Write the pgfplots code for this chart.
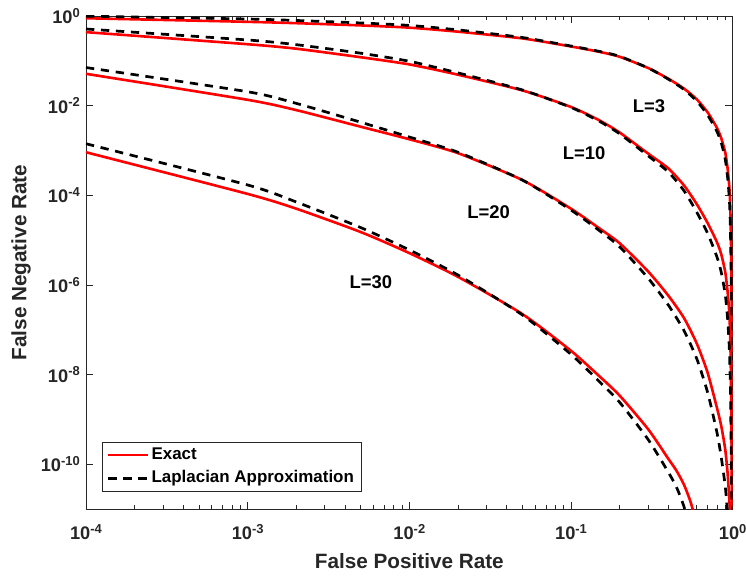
\documentclass[border=0pt]{standalone}
\usepackage{fontspec}
\setmainfont{Liberation Sans}
\usepackage{pgfplots}
\pgfplotsset{compat=1.18}
\definecolor{axgray}{RGB}{38,38,38}
\newcommand{\tenp}[1]{10\raisebox{6.5bp}{\fontsize{13}{13}\selectfont #1}}
\begin{document}
\begin{tikzpicture}
\begin{axis}[
  scale only axis, width=646.7bp, height=493bp,
  at={(0,0)}, anchor=south west,
  xmode=log, ymode=log,
  xmin=1e-4, xmax=1, ymin=1e-11, ymax=1,
  xtick={1e-4,1e-3,1e-2,1e-1,1},
  xticklabels={\tenp{-4},\tenp{-3},\tenp{-2},\tenp{-1},\tenp{0}},
  minor xtick={2e-4,3e-4,4e-4,5e-4,6e-4,7e-4,8e-4,9e-4,2e-3,3e-3,4e-3,5e-3,6e-3,7e-3,8e-3,9e-3,2e-2,3e-2,4e-2,5e-2,6e-2,7e-2,8e-2,9e-2,0.2,0.3,0.4,0.5,0.6,0.7,0.8,0.9},
  ytick={1e-10,1e-8,1e-6,1e-4,1e-2,1},
  yticklabels={\tenp{-10},\tenp{-8},\tenp{-6},\tenp{-4},\tenp{-2},\tenp{0}},
  yminorticks=false,
  tick align=inside,
  major tick length=7.5bp, minor tick length=4bp,
  axis line style={draw=axgray, line width=0.8bp},
  every tick/.append style={draw=axgray, line width=0.8bp},
  tick label style={font=\fontsize{18.3}{18}\selectfont\bfseries, text=axgray, inner sep=0pt},
  xticklabel style={anchor=north, yshift=-15bp},
  yticklabel style={anchor=east, xshift=-6bp},
  xlabel={False Positive Rate},
  ylabel={False Negative Rate},
  every axis x label/.style={at={(axis description cs:0.5,-0.1203)}, anchor=base, font=\fontsize{20.8}{21}\selectfont\bfseries, text=axgray},
  every axis y label/.style={at={(axis description cs:-0.092,0.5)}, rotate=90, anchor=base, font=\fontsize{20.8}{21}\selectfont\bfseries, text=axgray},
  legend style={at={(axis description cs:0.0243,0.0351)}, anchor=south west, draw=axgray, line width=0.6bp, fill=white,
    font=\fontsize{17}{17}\selectfont\bfseries, inner xsep=5bp, inner ysep=2.6bp, row sep=3.2bp,
    nodes={inner sep=2bp, text height=12.5bp, text depth=4bp}},
  legend cell align=left,
  legend image code/.code={\draw[#1, line width=2.6bp] (0bp,0bp) -- (40bp,0bp);},
  ex/.style={red, line width=2.6bp, smooth, tension=0.4},
  la/.style={black, line width=2.7bp, dash pattern=on 8.3bp off 6.7bp, smooth, tension=0.4},
]
% L=3
\addplot[ex] coordinates {
(1e-4,0.8913) (1e-3,0.7413) (2e-3,0.6918) (5e-3,0.6166) (1e-2,0.5495) (2e-2,0.4467) (5e-2,0.3162)
(0.1,0.2089) (0.15,0.1585) (0.2,0.1230) (0.3,0.06918) (0.4,0.03981) (0.5,0.02399) (0.6,0.01380)
(0.7,0.007079) (0.8,0.003162) (0.85,0.001862) (0.9,8.913e-4) (0.93,3.981e-4) (0.95,1.778e-4)
(0.96,1e-4) (0.97,3.162e-5) (0.98,3.162e-6) (0.99,1e-8) (0.995,1e-12)};
\addlegendentry{Exact}
\addplot[la] coordinates {
(1e-4,0.9886) (1e-3,0.8570) (2e-3,0.7943) (5e-3,0.6998) (1e-2,0.6166) (2e-2,0.4898) (5e-2,0.3311)
(0.1,0.2138) (0.15,0.1622) (0.2,0.1259) (0.3,0.06918) (0.4,0.03890) (0.5,0.02291) (0.6,0.01259)
(0.7,0.006166) (0.8,0.002630) (0.85,0.001479) (0.9,6.310e-4) (0.93,2.512e-4) (0.95,1e-4)
(0.96,5.012e-5) (0.97,1.259e-5) (0.98,1e-6) (0.99,2.512e-9) (0.995,3.162e-13)};
\addlegendentry{Laplacian Approximation}
% L=10
\addplot[ex, forget plot] coordinates {
(1e-4,0.4365) (1e-3,0.2344) (2e-3,0.1862) (5e-3,0.1202) (1e-2,0.08318) (2e-2,0.04898) (5e-2,0.02188)
(0.1,0.009333) (0.15,0.004677) (0.2,0.002512) (0.3,8.511e-4) (0.4,3.981e-4) (0.5,1.660e-4) (0.6,6.310e-5)
(0.7,2.399e-5) (0.8,8.913e-6) (0.85,4.786e-6) (0.9,1.905e-6) (0.93,7.079e-7) (0.95,2.818e-7)
(0.96,1.259e-7) (0.97,3.162e-8) (0.98,1.995e-9) (0.99,1e-11) (0.995,1e-13)};
\addplot[la, forget plot] coordinates {
(1e-4,0.5129) (1e-3,0.2917) (2e-3,0.2291) (5e-3,0.1479) (1e-2,0.09772) (2e-2,0.05370) (5e-2,0.02239)
(0.1,0.009120) (0.15,0.004467) (0.2,0.002344) (0.3,7.586e-4) (0.4,3.311e-4) (0.5,1.259e-4) (0.6,4.169e-5)
(0.7,1.413e-5) (0.8,4.169e-6) (0.85,1.905e-6) (0.9,6.026e-7) (0.93,1.778e-7) (0.95,5.012e-8)
(0.96,1.778e-8) (0.97,3.162e-9) (0.98,1e-10) (0.99,3.162e-13)};
% L=20
\addplot[ex, forget plot] coordinates {
(1e-4,0.05129) (1e-3,0.01349) (2e-3,0.007943) (5e-3,0.003388) (1e-2,0.001778) (2e-2,8.710e-4) (5e-2,2.188e-4)
(0.1,5.012e-5) (0.15,1.820e-5) (0.2,8.511e-6) (0.3,1.995e-6) (0.4,5.754e-7) (0.5,1.820e-7) (0.6,4.898e-8)
(0.7,1.096e-8) (0.8,1.778e-9) (0.85,7.079e-10) (0.9,2.089e-10) (0.93,6.310e-11) (0.95,1.995e-11)
(0.96,1e-11) (0.97,3.162e-12)};
\addplot[la, forget plot] coordinates {
(1e-4,0.07079) (1e-3,0.02042) (2e-3,0.01122) (5e-3,0.004266) (1e-2,0.001995) (2e-2,9.120e-4) (5e-2,2.188e-4)
(0.1,4.677e-5) (0.15,1.622e-5) (0.2,7.079e-6) (0.3,1.413e-6) (0.4,3.548e-7) (0.5,9.550e-8) (0.6,2.239e-8)
(0.7,3.981e-9) (0.8,5.012e-10) (0.85,1.413e-10) (0.9,3.162e-11) (0.93,7.943e-12) (0.95,2.512e-12)};
% L=30
\addplot[ex, forget plot] coordinates {
(1e-4,9.120e-4) (1e-3,1.072e-4) (2e-3,5.012e-5) (5e-3,1.514e-5) (1e-2,5.129e-6) (2e-2,1.514e-6) (5e-2,2.239e-7)
(0.1,3.388e-8) (0.15,9.120e-9) (0.2,3.388e-9) (0.3,6.026e-10) (0.4,1.318e-10) (0.45,7.079e-11) (0.5,3.467e-11)
(0.55,1.413e-11) (0.6,4.467e-12)};
\addplot[la, forget plot] coordinates {
(1e-4,1.413e-3) (1e-3,1.698e-4) (2e-3,7.079e-5) (5e-3,1.905e-5) (1e-2,6.026e-6) (2e-2,1.660e-6) (5e-2,2.138e-7)
(0.1,2.818e-8) (0.15,6.918e-9) (0.2,2.399e-9) (0.3,3.548e-10) (0.4,6.607e-11) (0.45,3.020e-11) (0.5,1.122e-11)
(0.55,3.162e-12)};
% labels
\node[font=\fontsize{18.5}{18.5}\selectfont\bfseries, anchor=center] at (axis cs:0.304,9.5e-3) {L=3};
\node[font=\fontsize{18.5}{18.5}\selectfont\bfseries, anchor=center] at (axis cs:0.1205,8.68e-4) {L=10};
\node[font=\fontsize{18.5}{18.5}\selectfont\bfseries, anchor=center] at (axis cs:0.0309,4.12e-5) {L=20};
\node[font=\fontsize{18.5}{18.5}\selectfont\bfseries, anchor=center] at (axis cs:0.00579,1.13e-6) {L=30};
\end{axis}
\pgfresetboundingbox
\path (-86bp,-67bp) rectangle (660bp,509bp);
\end{tikzpicture}
\end{document}
